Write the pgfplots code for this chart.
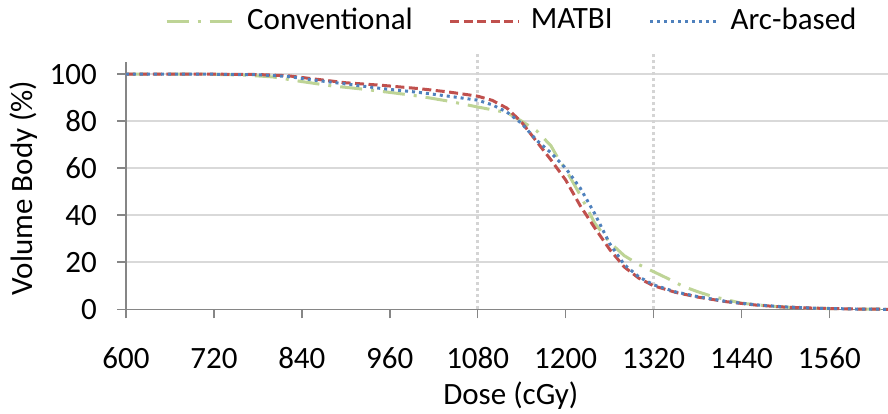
\documentclass[border=0pt]{standalone}
\usepackage{pgfplots}
\pgfplotsset{compat=1.18}
\usepackage{fontspec}
\setmainfont{Carlito}
\definecolor{convgreen}{RGB}{190,212,150}
\definecolor{matred}{RGB}{192,80,77}
\definecolor{arcblue}{RGB}{79,129,189}
\definecolor{axisgray}{RGB}{134,134,134}
\definecolor{gridgray}{RGB}{217,217,217}
\definecolor{refgray}{RGB}{212,212,212}
\begin{document}
\fontsize{31}{37}\selectfont
\begin{tikzpicture}
\begin{axis}[
  scale only axis, width=762pt, height=247pt,
  xmin=600, xmax=1640, ymin=0, ymax=105,
  clip=false,
  axis x line=bottom, axis y line=left,
  axis line style={draw=axisgray, line width=1.5pt, -},
  xtick={600,720,...,1560}, ytick={0,20,...,100},
  tick style={draw=axisgray, line width=1.5pt},
  tick align=outside, major tick length=9pt,
  ymajorgrids, grid style={draw=gridgray, line width=1.5pt},
  /pgf/number format/assume math mode=true,
  /pgf/number format/1000 sep={},
  tick label style={font=\fontsize{31}{37}\selectfont},
  xticklabel style={anchor=base, inner sep=0pt, yshift=-50pt},
  yticklabel style={anchor=east, inner sep=0pt, xshift=-20pt},
  legend style={at={(0.505,1)}, anchor=south, yshift=28pt, draw=none, fill=none,
    inner sep=0pt, font=\fontsize{31}{37}\selectfont,
    legend columns=3,
    nodes={inner sep=0pt},
    /tikz/every odd column/.append style={column sep=11pt},
    /tikz/every even column/.append style={column sep=36pt}},
  legend image code/.code={\draw[#1] (0pt,0pt) -- (68pt,0pt);},
]
\addplot[refgray, line width=3pt, dash pattern=on 3pt off 3pt, forget plot] coordinates {(1080,0) (1080,109)};
\addplot[refgray, line width=3pt, dash pattern=on 3pt off 3pt, forget plot] coordinates {(1320,0) (1320,109)};

\addplot[convgreen, line width=3pt, dash pattern=on 22pt off 9pt on 3pt off 9pt] table {
x y
600 100
700 100
760 99.6
800 98.8
840 96.8
880 95.0
920 93.7
960 92.2
1000 90.6
1040 88.5
1080 86
1100 84.8
1120 83.6
1140 80
1160 76
1180 69.5
1190 64
1200 59.5
1220 48.5
1240 36.5
1260 28.5
1280 22.8
1300 19
1320 16
1340 13
1360 9.8
1380 7.5
1400 5.5
1440 2.6
1480 1.3
1520 0.6
1560 0.3
1600 0.1
1640 0
};
\addlegendentry{Conventional}

\addplot[matred, line width=3pt, dash pattern=on 9pt off 4.5pt] table {
x y
600 100
700 100
780 99.8
820 99.3
860 97.8
900 96.3
950 95.2
1000 93.8
1040 92.4
1080 90.6
1100 88.8
1120 85.5
1140 79.5
1160 71.5
1180 63.5
1200 55
1220 44
1240 34.5
1260 25.5
1280 18
1300 13.2
1320 10
1350 7.2
1380 5.2
1420 3.2
1460 1.8
1500 0.9
1550 0.4
1600 0.1
1640 0
};
\addlegendentry{MATBI}

\addplot[arcblue, line width=3pt, dash pattern=on 3pt off 4pt] table {
x y
600 100
700 100
780 99.7
820 99.0
860 97.3
900 95.8
950 93.8
1000 92.2
1040 90.6
1080 88.9
1100 86.9
1120 83.8
1140 79
1160 72
1180 66.5
1200 60
1220 51.5
1240 40.5
1260 28
1280 19
1300 13.8
1320 10.4
1350 7.4
1380 5.4
1420 3.3
1460 1.9
1500 1.0
1550 0.4
1600 0.1
1640 0
};
\addlegendentry{Arc-based}
\coordinate (bl) at (rel axis cs:0,0);
\end{axis}
\node[rotate=90, anchor=base, inner sep=0pt] at ([shift={(-93pt,121.3pt)}]bl) {Volume Body (\%)};
\node[anchor=base, inner sep=0pt] at ([shift={(384.8pt,-95.3pt)}]bl) {Dose (cGy)};
\pgfresetboundingbox
\path[use as bounding box] ([shift={(-126pt,-104.7pt)}]bl) rectangle ([shift={(762pt,309.3pt)}]bl);
\end{tikzpicture}
\end{document}
